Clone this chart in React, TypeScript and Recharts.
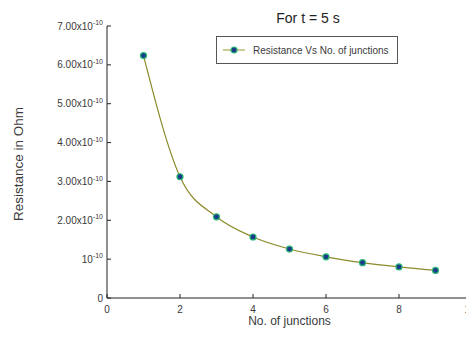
import React from "react";
import { LineChart, Line, XAxis, YAxis, Legend, Label } from "recharts";

// junction count vs measured resistance (ohm)
const junctions = [1, 2, 3, 4, 5, 6, 7, 8, 9];
const resistance = [6.24e-10, 3.12e-10, 2.09e-10, 1.57e-10, 1.26e-10, 1.06e-10, 0.91e-10, 0.8e-10, 0.71e-10];

const xTicks = [0, 2, 4, 6, 8, 10];
const yTicks = [0, 1e-10, 2e-10, 3e-10, 4e-10, 5e-10, 6e-10, 7e-10];
const yTickBases = ["0", "10", "2.00x10", "3.00x10", "4.00x10", "5.00x10", "6.00x10", "7.00x10"];
const yTickExps = ["", "-10", "-10", "-10", "-10", "-10", "-10", "-10"];

const seriesName = "Resistance Vs No. of junctions";
const title = "For t = 5 s";

const FONT = "'Liberation Sans', Arial, sans-serif";
const LINE = "#8b8b2b";
const DOT_FILL = "#1b3a8c";
const DOT_EDGE = "#2ab673";
const AXIS = "#222";
const TEXT = "#3a3a3a";

const data = junctions.map((n, i) => ({ n, r: resistance[i] }));

// ticks point inward, so the tick marks are drawn here instead of by the axis
function YTick(props: any) {
  const { x, y, index } = props;
  const exp = yTickExps[index];
  return (
    <g>
      <line x1={x} x2={x + 4} y1={y} y2={y} stroke={AXIS} strokeWidth={1} />
      <text x={x - 4} y={y + 3.6} textAnchor="end" fontSize={10} fontFamily={FONT} fill={TEXT}>
        <tspan>{yTickBases[index]}</tspan>
        {exp && (
          <tspan dy={-4.5} fontSize={7}>
            {exp}
          </tspan>
        )}
      </text>
    </g>
  );
}

function XTick(props: any) {
  const { x, y, payload } = props;
  return (
    <g>
      <line x1={x} x2={x} y1={y} y2={y - 4} stroke={AXIS} strokeWidth={1} />
      <text x={x} y={y + 15} textAnchor="middle" fontSize={10} fontFamily={FONT} fill={TEXT}>
        {payload.value}
      </text>
    </g>
  );
}

function LegendBox() {
  return (
    <div
      style={{
        boxSizing: "border-box",
        width: 182,
        height: 28,
        border: "1px solid #555",
        background: "#fff",
        display: "flex",
        alignItems: "center",
        paddingLeft: 6,
        fontFamily: FONT,
        fontSize: 10,
        color: TEXT,
      }}
    >
      <svg width={22} height={10} style={{ marginRight: 8 }}>
        <line x1={0} x2={22} y1={5} y2={5} stroke="#b8b870" strokeWidth={1.5} />
        <circle cx={11} cy={5} r={3} fill={DOT_FILL} stroke={DOT_EDGE} strokeWidth={1.2} />
      </svg>
      <span style={{ whiteSpace: "nowrap" }}>{seriesName}</span>
    </div>
  );
}

export default function App() {
  return (
    <div style={{ position: "relative", width: 466, height: 335, overflow: "hidden" }}>
      <div
        style={{
          position: "absolute",
          left: 250,
          top: 3,
          width: 100,
          textAlign: "center",
          fontFamily: FONT,
          fontSize: 14,
          lineHeight: "14px",
          color: "#222",
          zIndex: 2,
        }}
      >
        {title}
      </div>
      <LineChart width={470} height={335} data={data} margin={{ top: 18, right: 6, left: 0, bottom: 0 }}>
        <XAxis
          dataKey="n"
          type="number"
          domain={[0, 10]}
          ticks={xTicks}
          tickSize={0}
          tickMargin={0}
          tickLine={false}
          tick={<XTick />}
          axisLine={{ stroke: AXIS, strokeWidth: 1 }}
          height={45}
        >
          <Label
            content={(p: any) => {
              const vb = p.viewBox;
              return (
                <text
                  x={vb.x + vb.width / 2}
                  y={vb.y + 27}
                  textAnchor="middle"
                  fontSize={12}
                  fontFamily={FONT}
                  fill={TEXT}
                >
                  No. of junctions
                </text>
              );
            }}
          />
        </XAxis>
        <YAxis
          type="number"
          domain={[0, 7e-10]}
          ticks={yTicks}
          width={99}
          tickSize={0}
          tickMargin={0}
          tickLine={false}
          tick={<YTick />}
          axisLine={{ stroke: AXIS, strokeWidth: 1 }}
        >
          <Label
            content={() => (
              <text
                x={10}
                y={156}
                dy="0.35em"
                transform="rotate(-90, 10, 156)"
                textAnchor="middle"
                fontSize={13.5}
                fontFamily={FONT}
                fill={TEXT}
              >
                Resistance in Ohm
              </text>
            )}
          />
        </YAxis>
        <Legend
          layout="vertical"
          align="center"
          verticalAlign="middle"
          wrapperStyle={{ top: 28, left: 208, width: 182 }}
          content={() => <LegendBox />}
        />
        <Line
          type="monotone"
          dataKey="r"
          name={seriesName}
          stroke={LINE}
          strokeWidth={1.2}
          dot={{ r: 3, fill: DOT_FILL, stroke: DOT_EDGE, strokeWidth: 1.2 }}
          isAnimationActive={false}
        />
      </LineChart>
    </div>
  );
}
